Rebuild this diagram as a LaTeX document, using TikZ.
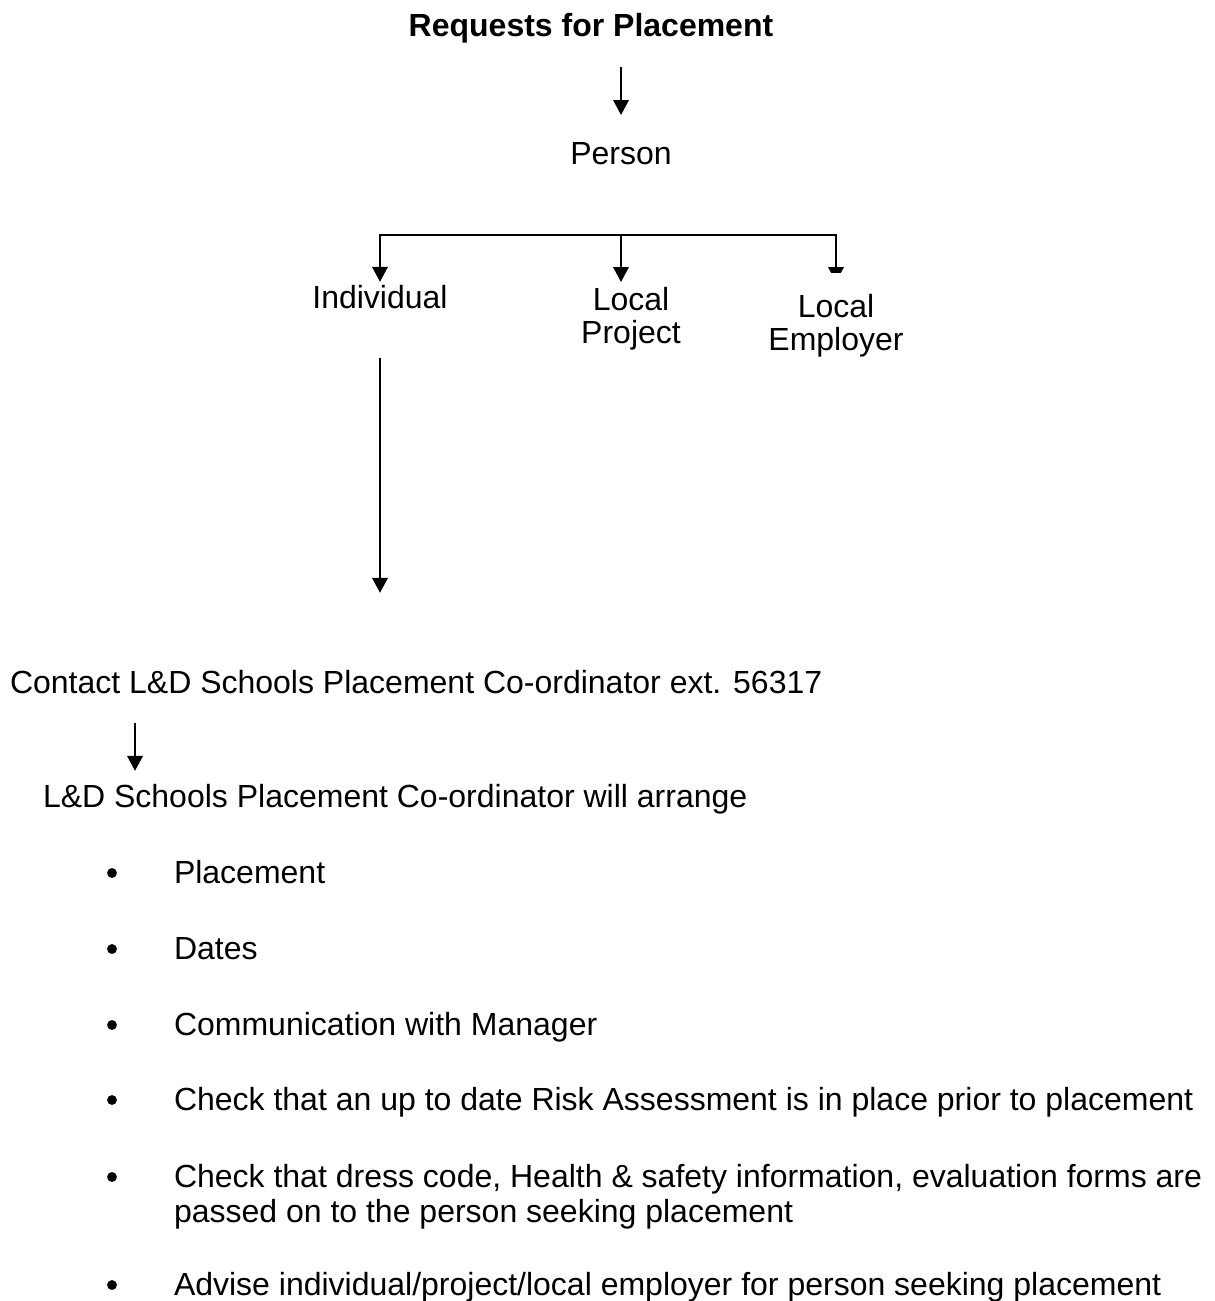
\documentclass[tikz,border=0pt]{standalone}
\usepackage{fontspec}
\setmainfont{Liberation Sans}
\usetikzlibrary{arrows.meta, calc, backgrounds}

\begin{document}
\begin{tikzpicture}[x=0.375pt, y=-0.375pt,
  txt/.style={inner sep=0pt, outer sep=0pt, font=\fontsize{12}{13.1}\selectfont},
  arr/.style={-{Triangle[length=5.6pt, width=5.8pt]}, line width=0.75pt},
  dot/.style={circle, fill=black, inner sep=0pt, minimum size=3.7pt}]
\useasboundingbox (0,0) rectangle (1215,1301);

% Heading
\node[txt, anchor=base, font=\fontsize{12}{13.1}\selectfont\bfseries] (title) at (591,37) {Requests for Placement};
\node[txt, anchor=base] (person) at (621,165) {Person};

% Who asks
\node[txt, anchor=base] (indiv) at (380,308) {Individual};
\node[txt, anchor=north, align=center, font=\fontsize{12}{12.4}\selectfont] (proj) at (631,287) {Local\\Project};
\node[txt, anchor=north, align=center, fill=white, inner xsep=1pt, inner ysep=7.9pt, font=\fontsize{12}{12.4}\selectfont] (emp) at (836,273) {Local\\Employer};

% Contact
\node[txt, anchor=base west] (contact) at (10,693) {Contact L\&D Schools Placement Co-ordinator ext. 56317};
\node[txt, anchor=base west] (coord) at (43,807) {L\&D Schools Placement Co-ordinator will arrange};

% What gets arranged
\node[dot] (d1) at (112,873) {};
\node[txt, anchor=base west] (b1) at (174,883) {Placement};
\node[dot] (d2) at (112,949) {};
\node[txt, anchor=base west] (b2) at (174,959) {Dates};
\node[dot] (d3) at (112,1025) {};
\node[txt, anchor=base west] (b3) at (174,1035) {Communication with Manager};
\node[dot] (d4) at (112,1100) {};
\node[txt, anchor=base west] (b4) at (174,1110) {Check that an up to date Risk Assessment is in place prior to placement};
\node[dot] (d5) at (112,1177) {};
\node[txt, anchor=base west] (b5) at (174,1187) {Check that dress code, Health \& safety information, evaluation forms are};
\node[txt, anchor=base west] (b5b) at (174,1222) {passed on to the person seeking placement};
\node[dot] (d6) at (112,1285) {};
\node[txt, anchor=base west] (b6) at (174,1295) {Advise individual/project/local employer for person seeking placement};

\begin{pgfonlayer}{background}
\draw[arr] ($(title.base -| person.base)+(0,30)$) -- ($(person.north)+(0,-28)$);
\coordinate (br) at ($(person.base)+(0,70)$);
\draw[arr] (br) -- (br -| indiv.base) -- ($(indiv.north)+(0,-3)$);
\draw[arr] (br) -- ($(br |- proj.north)+(0,-5)$);
\draw[arr] (br) -- (br -| emp.north) -- ($(emp.north)+(0,9)$);
\draw[arr] ($(indiv.base)+(0,50)$) -- ($(indiv.base |- contact.north)+(0,-77)$);
\draw[arr] ($(contact.base west)+(125,30)$) -- ($(coord.north west)+(92,-13)$);
\end{pgfonlayer}
\end{tikzpicture}
\end{document}
